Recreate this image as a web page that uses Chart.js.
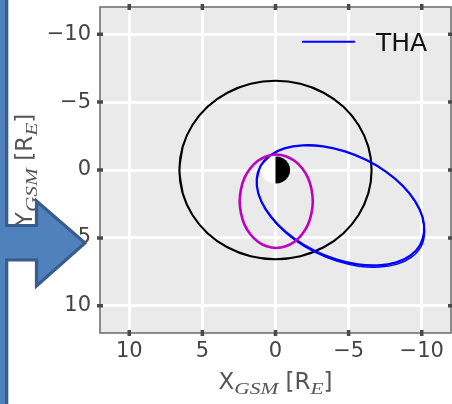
<!DOCTYPE html>
<html><head><meta charset="utf-8">
<script src="https://cdn.jsdelivr.net/npm/chart.js@4.4.0/dist/chart.umd.min.js"></script>
<style>html,body{margin:0;padding:0;background:#fff;}canvas{display:block;}</style>
</head><body>
<canvas id="c" width="452" height="404"></canvas>
<script>
// ---- data (units of Earth radii) ----
const X_TICKS = [-10, -5, 0, 5, 10];
const Y_TICKS = [-10, -5, 0, 5, 10];
const AXIS_MIN = -12, AXIS_MAX = 12;
const SERIES_NAME = 'THA';

// THA orbit (closed loop, first/last points repeated for a smooth join)
const thaX = [0.36, 1.01, 1.28, 1.17, 0.67, -0.17, -1.31, -2.66, -4.13, -5.62, -7.03, -8.27, -9.24, -9.89, -10.16, -10.05, -9.55, -8.71, -7.57, -6.22, -4.75, -3.26, -1.85, -0.61, 0.36, 1.01, 1.28];
const thaY = [-1.08, -0.31, 0.65, 1.75, 2.90, 4.03, 5.07, 5.94, 6.58, 6.95, 7.02, 6.80, 6.29, 5.52, 4.56, 3.46, 2.31, 1.18, 0.14, -0.73, -1.37, -1.74, -1.81, -1.59, -1.08, -0.31, 0.65];
// second pass of the orbit (lower arc, slightly displaced)
const tha2X = [0.67, -0.20, -1.37, -2.72, -4.19, -5.68, -7.09, -8.33, -9.30, -9.95, -10.19, -10.05];
const tha2Y = [2.90, 4.10, 5.20, 6.07, 6.71, 7.08, 7.15, 6.93, 6.42, 5.65, 4.63, 3.46];
// black circle
const geoX = [6.35, 6.57, 6.35, 5.69, 4.65, 3.29, 1.70, 0, -1.70, -3.29, -4.65, -5.69, -6.35, -6.57, -6.35, -5.69, -4.65, -3.29, -1.70, 0, 1.70, 3.29, 4.65, 5.69, 6.35, 6.57, 6.35];
const geoY = [-1.70, 0, 1.70, 3.29, 4.65, 5.69, 6.35, 6.57, 6.35, 5.69, 4.65, 3.29, 1.70, 0, -1.70, -3.29, -4.65, -5.69, -6.35, -6.57, -6.35, -5.69, -4.65, -3.29, -1.70, 0, 1.70];
// magenta loop
const magX = [2.36, 2.45, 2.36, 2.12, 1.72, 1.20, 0.60, -0.05, -0.70, -1.30, -1.82, -2.22, -2.46, -2.55, -2.46, -2.22, -1.82, -1.30, -0.70, -0.05, 0.60, 1.20, 1.72, 2.12, 2.36, 2.45, 2.36];
const magY = [1.41, 2.30, 3.19, 4.02, 4.73, 5.28, 5.62, 5.74, 5.62, 5.28, 4.73, 4.02, 3.19, 2.30, 1.41, 0.58, -0.13, -0.68, -1.02, -1.14, -1.02, -0.68, -0.13, 0.58, 1.41, 2.30, 3.19];
// Earth: night half (black) and day half (white)
const nightX = [0, -0.26, -0.5, -0.71, -0.87, -0.97, -1, -0.97, -0.87, -0.71, -0.5, -0.26, 0, 0];
const nightY = [-1, -0.97, -0.87, -0.71, -0.5, -0.26, 0, 0.26, 0.5, 0.71, 0.87, 0.97, 1, -1];
const dayX = [0, 0.26, 0.5, 0.71, 0.87, 0.97, 1, 0.97, 0.87, 0.71, 0.5, 0.26, 0, 0];
const dayY = [-1, -0.97, -0.87, -0.71, -0.5, -0.26, 0, 0.26, 0.5, 0.71, 0.87, 0.97, 1, -1];

const pts = (xs, ys) => xs.map((x, i) => ({x: x, y: ys[i]}));
const fmt = v => (v < 0 ? '\u2212' + (-v) : String(v));

const BASE_FONT = "23px 'DejaVu Sans'";
const SUB_FONT = "italic 17px 'Liberation Serif'";
const LABEL_COLOR = '#555555';

function drawMath(ctx, parts, cx, baseY) {
  let total = 0;
  parts.forEach(p => { ctx.font = p.font; p.m = ctx.measureText(p.t).width; p.adv = p.w || p.m; total += p.adv; });
  let x = cx - total / 2;
  parts.forEach(p => {
    ctx.font = p.font;
    ctx.save();
    ctx.translate(x, baseY + (p.sub ? 5 : 0));
    ctx.scale(p.adv / p.m, 1);
    ctx.fillText(p.t, 0, 0);
    ctx.restore();
    x += p.adv;
  });
}
function labelParts(letter) {
  return [
    {t: letter, font: BASE_FONT},
    {t: 'GSM', font: SUB_FONT, sub: true, w: 44},
    {t: ' [R', font: BASE_FONT},
    {t: 'E', font: SUB_FONT, sub: true, w: 13},
    {t: ']', font: BASE_FONT}
  ];
}

const decor = {
  id: 'decor',
  beforeDraw(chart) {
    const {ctx, chartArea: a} = chart;
    ctx.save();
    ctx.fillStyle = '#EAEAEA';
    ctx.fillRect(a.left, a.top, a.right - a.left, a.bottom - a.top);
    ctx.restore();
  },
  afterDraw(chart) {
    const {ctx, chartArea: a} = chart;
    const xs = chart.scales.x, ys = chart.scales.y;
    ctx.save();
    // spines
    ctx.strokeStyle = '#7a7a7a';
    ctx.lineWidth = 1.7;
    ctx.strokeRect(a.left, a.top, a.right - a.left, a.bottom - a.top);
    // tick marks on all four sides
    ctx.strokeStyle = '#4a4a4a';
    ctx.lineWidth = 3.5;
    ctx.beginPath();
    X_TICKS.forEach(v => {
      const p = xs.getPixelForValue(v);
      ctx.moveTo(p, a.bottom - 3); ctx.lineTo(p, a.bottom + 3);
      ctx.moveTo(p, a.top - 3); ctx.lineTo(p, a.top + 3);
    });
    Y_TICKS.forEach(v => {
      const p = ys.getPixelForValue(v);
      ctx.moveTo(a.left - 3, p); ctx.lineTo(a.left + 3, p);
      ctx.moveTo(a.right - 3, p); ctx.lineTo(a.right + 3, p);
    });
    ctx.stroke();

    // legend
    const ds = chart.data.datasets.find(d => d.label === SERIES_NAME);
    ctx.strokeStyle = ds.borderColor;
    ctx.lineWidth = 2;
    ctx.beginPath(); ctx.moveTo(302, 41.7); ctx.lineTo(355, 41.7); ctx.stroke();
    ctx.fillStyle = '#111';
    ctx.font = "25px 'DejaVu Sans'";
    ctx.textBaseline = 'alphabetic';
    ctx.textAlign = 'left';
    ctx.fillText(SERIES_NAME, 376, 51);

    // axis titles
    ctx.fillStyle = LABEL_COLOR;
    drawMath(ctx, labelParts('X'), (a.left + a.right) / 2, 389);
    ctx.save();
    ctx.translate(32, (a.top + a.bottom) / 2);
    ctx.rotate(-Math.PI / 2);
    drawMath(ctx, labelParts('Y'), 0, 0);
    ctx.restore();

    // overlaid blue arrow shape
    ctx.beginPath();
    ctx.moveTo(-4, -4); ctx.lineTo(6.7, -4); ctx.lineTo(6.7, 225.5);
    ctx.lineTo(36.5, 225.5); ctx.lineTo(36.5, 201); ctx.lineTo(85, 243);
    ctx.lineTo(36.5, 286); ctx.lineTo(36.5, 260); ctx.lineTo(6.7, 260);
    ctx.lineTo(6.7, 410); ctx.lineTo(-4, 410); ctx.closePath();
    ctx.fillStyle = '#4F81BD';
    ctx.fill();
    ctx.lineJoin = 'miter';
    ctx.lineWidth = 3.2;
    ctx.strokeStyle = '#385D8A';
    ctx.stroke();
    ctx.restore();
  }
};

const lineDs = (label, xs, ys, color, width, order, extra) => Object.assign({
  label: label, data: pts(xs, ys), showLine: true, borderColor: color,
  backgroundColor: color, borderWidth: width, pointRadius: 0, tension: 0.34,
  fill: false, order: order
}, extra || {});

new Chart(document.getElementById('c'), {
  type: 'scatter',
  data: {
    datasets: [
      lineDs('earth-day', dayX, dayY, '#FFFFFF', 0, 7, {tension: 0, fill: 'shape', backgroundColor: '#FFFFFF', borderColor: 'rgba(0,0,0,0)'}),
      lineDs('earth-night', nightX, nightY, '#000000', 0, 6, {tension: 0, fill: 'shape', backgroundColor: '#000000', borderColor: 'rgba(0,0,0,0)'}),
      lineDs('geo', geoX, geoY, '#000000', 2.1, 5),
      lineDs('tha-pass2', tha2X, tha2Y, '#0000FF', 1.5, 4),
      lineDs(SERIES_NAME, thaX, thaY, '#0000FF', 2.3, 3),
      lineDs('mag', magX, magY, '#BF00BF', 2.6, 2)
    ]
  },
  options: {
    responsive: false,
    animation: false,
    events: [],
    layout: {padding: {top: 7, right: 1, left: 0, bottom: 0}},
    plugins: {legend: {display: false}, tooltip: {enabled: false}},
    scales: {
      x: {
        type: 'linear', position: 'bottom', min: AXIS_MIN, max: AXIS_MAX, reverse: true,
        afterBuildTicks: s => { s.ticks = X_TICKS.map(v => ({value: v})); },
        afterFit: s => { s.height = 71; s.paddingLeft = 0; s.paddingRight = 0; },
        grid: {color: '#FFFFFF', lineWidth: 3, drawTicks: false},
        border: {display: false},
        ticks: {callback: fmt, color: '#444444', font: {family: 'DejaVu Sans', size: 21}, padding: 6, maxRotation: 0, autoSkip: false}
      },
      y: {
        type: 'linear', position: 'left', min: AXIS_MIN, max: AXIS_MAX, reverse: true,
        afterBuildTicks: s => { s.ticks = Y_TICKS.map(v => ({value: v})); },
        afterFit: s => { s.width = 100; s.paddingTop = 0; s.paddingBottom = 0; },
        grid: {color: '#FFFFFF', lineWidth: 3, drawTicks: false},
        border: {display: false},
        ticks: {callback: fmt, color: '#444444', font: {family: 'DejaVu Sans', size: 21}, padding: 9, autoSkip: false}
      }
    }
  },
  plugins: [decor]
});
</script>
</body></html>
